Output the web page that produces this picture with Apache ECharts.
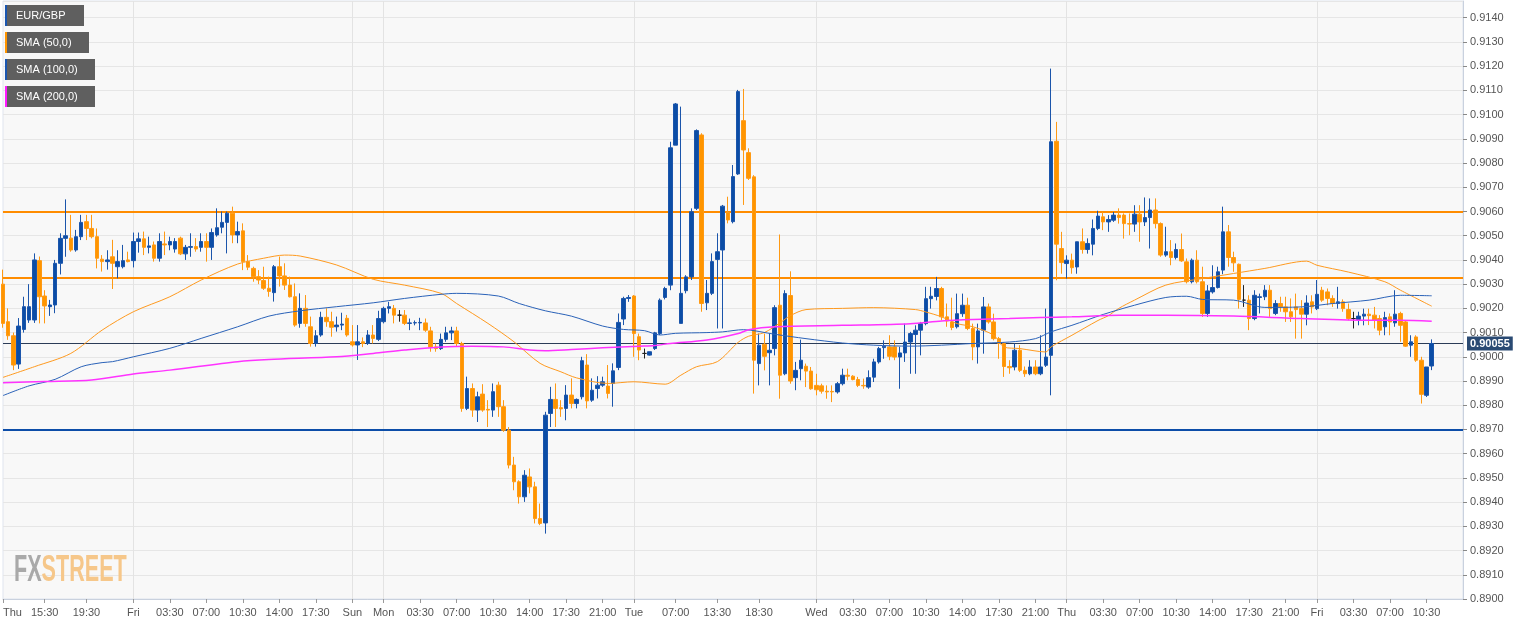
<!DOCTYPE html>
<html><head><meta charset="utf-8">
<script src="https://cdn.jsdelivr.net/npm/echarts@6/dist/echarts.min.js"></script>
<style>html,body{margin:0;padding:0;background:#fff}#c{width:1534px;height:627px}</style>
</head><body><div id="c"></div>
<script>
// 30-minute candles: [open, high, low, close]
const ohlc = [
[0.9030,0.9036,0.9012,0.90138],[0.90145,0.9020,0.9007,0.90087],[0.90087,0.9010,0.89945,0.89966],[0.8997,0.9016,0.8995,0.90127],
[0.90113,0.90248,0.9010,0.90207],[0.90152,0.9030,0.9014,0.90207],[0.90152,0.90427,0.9014,0.9040],[0.90397,0.90414,0.90138,0.90248],
[0.90251,0.90275,0.90138,0.9021],[0.90207,0.90235,0.90169,0.90214],[0.90214,0.904,0.9018,0.90386],[0.90386,0.9051,0.9034,0.90489],
[0.90489,0.9065,0.90413,0.9050],[0.9049,0.90586,0.90434,0.90441],[0.90441,0.90524,0.90434,0.90496],[0.90496,0.90586,0.90482,0.90555],
[0.90558,0.90586,0.90482,0.9053],[0.9053,0.90586,0.90489,0.90496],[0.90496,0.9053,0.90365,0.90407],[0.90403,0.9042,0.90352,0.90393],
[0.90393,0.9044,0.9036,0.904],[0.90413,0.90483,0.9028,0.90386],[0.90372,0.9044,0.90324,0.90393],[0.90372,0.90462,0.90365,0.90397],
[0.904,0.90434,0.9039,0.90393],[0.90397,0.90513,0.90369,0.90476],[0.90476,0.90513,0.9043,0.90487],[0.90487,0.90517,0.9042,0.90452],
[0.90452,0.90496,0.90427,0.90458],[0.90462,0.90476,0.90393,0.90407],[0.90407,0.9051,0.90393,0.90476],[0.90466,0.90517,0.9042,0.90462],
[0.90462,0.90496,0.9044,0.90476],[0.90445,0.9049,0.9043,0.90476],[0.9049,0.90496,0.9042,0.90425],[0.90425,0.90462,0.904,0.90452],
[0.90452,0.9051,0.90413,0.90455],[0.90455,0.9049,0.90434,0.90445],[0.90452,0.9051,0.90434,0.90476],[0.90476,0.9051,0.90393,0.90452],
[0.90452,0.9053,0.904,0.90513],[0.90503,0.90613,0.90496,0.90533],[0.90535,0.906,0.9051,0.90555],[0.90555,0.906,0.90427,0.90593],
[0.90593,0.9062,0.90469,0.90503],[0.90503,0.90558,0.90469,0.90517],[0.9052,0.90551,0.90358,0.90393],[0.90393,0.9042,0.90358,0.9037],
[0.90365,0.90372,0.9031,0.90331],[0.90331,0.90358,0.903,0.90317],[0.90315,0.90372,0.90276,0.90283],[0.90283,0.90331,0.90248,0.9027],
[0.90265,0.90379,0.90228,0.90372],[0.90372,0.90414,0.9029,0.90334],[0.90334,0.90386,0.90276,0.90296],[0.90296,0.90331,0.90245,0.90248],
[0.90248,0.90303,0.90124,0.90131],[0.90138,0.90262,0.9012,0.902],[0.902,0.90255,0.90124,0.90138],[0.90124,0.90166,0.90042,0.90055],
[0.90055,0.9011,0.90042,0.90087],[0.9009,0.90186,0.90083,0.90163],[0.90163,0.902,0.90124,0.90145],[0.90145,0.90186,0.90083,0.90122],
[0.90124,0.90166,0.90104,0.90131],[0.90131,0.90182,0.9011,0.90135],[0.90159,0.90173,0.90083,0.9009],[0.90062,0.90131,0.90042,0.90049],
[0.90049,0.90131,0.89987,0.90062],[0.90062,0.9008,0.9004,0.90055],[0.90055,0.9011,0.90049,0.9009],[0.9009,0.90131,0.90055,0.90076],
[0.90072,0.9019,0.90065,0.90158],[0.90145,0.90207,0.90138,0.902],[0.902,0.90227,0.90179,0.90207],[0.902,0.90214,0.90138,0.90172],
[0.90172,0.90193,0.90145,0.90172],[0.90172,0.90193,0.90131,0.90138],[0.90138,0.90158,0.9011,0.9014],[0.9014,0.9015,0.9013,0.90141],
[0.9014,0.90161,0.9011,0.90142],[0.9014,0.90158,0.90103,0.9011],[0.90107,0.90124,0.90021,0.90041],[0.90041,0.90055,0.90021,0.90034],
[0.90034,0.90096,0.90028,0.90072],[0.90072,0.90124,0.90062,0.90099],[0.90099,0.90124,0.90069,0.90107],[0.90107,0.90124,0.90041,0.90055],
[0.90055,0.90062,0.89773,0.89787],[0.89787,0.89918,0.8978,0.89869],[0.89869,0.8989,0.89752,0.8978],[0.8978,0.89856,0.89731,0.89835],
[0.89846,0.89887,0.89773,0.8978],[0.89783,0.89821,0.8971,0.8978],[0.8978,0.8989,0.89752,0.89856],[0.89883,0.89897,0.89752,0.89794],
[0.89794,0.89821,0.8969,0.89697],[0.89697,0.8971,0.89539,0.89553],[0.89553,0.89587,0.89449,0.89484],[0.89484,0.8949,0.89394,0.89422],
[0.89422,0.89532,0.89401,0.89511],[0.89504,0.89539,0.89436,0.89463],[0.89463,0.89484,0.89312,0.89332],[0.89332,0.89394,0.89305,0.89312],
[0.89314,0.89773,0.8927,0.89759],[0.89766,0.89876,0.8971,0.89824],[0.89824,0.8989,0.8971,0.89787],[0.8979,0.89821,0.89752,0.89785],
[0.89787,0.89883,0.89738,0.89842],[0.89842,0.89911,0.89787,0.89807],[0.89807,0.89828,0.89787,0.89824],[0.89835,0.9,0.89824,0.89984],
[0.89966,0.90011,0.89787,0.89818],[0.89821,0.89911,0.89814,0.89862],[0.89869,0.8992,0.89828,0.89883],[0.89883,0.89918,0.89876,0.89897],
[0.89879,0.89966,0.89828,0.89849],[0.8989,0.89973,0.89794,0.89942],[0.89956,0.90179,0.89945,0.90142],[0.90156,0.90248,0.90131,0.90241],
[0.90241,0.90255,0.90227,0.90245],[0.90251,0.90255,0.9,0.90096],[0.90083,0.90096,0.89986,0.90028],[0.90014,0.90034,0.89993,0.90014],
[0.90007,0.90021,0.90005,0.90021],[0.90034,0.90103,0.90028,0.90099],[0.90096,0.90241,0.9009,0.90234],[0.90245,0.90289,0.90237,0.90282],
[0.90296,0.90888,0.90275,0.90863],[0.90874,0.91048,0.90874,0.91044],[0.90138,0.91033,0.90138,0.90262],[0.90273,0.90337,0.90262,0.9033],
[0.9033,0.90613,0.90317,0.90599],[0.90613,0.90939,0.90606,0.90934],[0.90916,0.90923,0.90186,0.9022],[0.90223,0.90317,0.90193,0.90262],
[0.90262,0.90427,0.90255,0.90393],[0.90402,0.9051,0.90117,0.90434],[0.90441,0.90627,0.90117,0.90622],[0.90596,0.90661,0.90551,0.90565],
[0.90558,0.90792,0.90551,0.90744],[0.90755,0.91102,0.90751,0.91095],[0.90975,0.91106,0.90627,0.90854],[0.90843,0.90861,0.9073,0.90737],
[0.90743,0.9075,0.89848,0.89986],[0.89972,0.90096,0.89882,0.90048],[0.90052,0.90096,0.89944,0.90002],[0.90017,0.90096,0.89882,0.90027],
[0.90034,0.90213,0.90006,0.90203],[0.90213,0.90505,0.89827,0.89924],[0.8993,0.90275,0.89924,0.90261],[0.90253,0.90353,0.89889,0.899],
[0.89914,0.89979,0.89862,0.89944],[0.89951,0.90071,0.89903,0.89986],[0.89961,0.89972,0.89875,0.89941],[0.89941,0.89958,0.89864,0.89868],
[0.89882,0.8993,0.89841,0.89864],[0.8988,0.89889,0.89848,0.89858],[0.89858,0.89882,0.89827,0.89855],[0.89857,0.89882,0.89813,0.89855],
[0.89855,0.89896,0.89848,0.89889],[0.89889,0.89951,0.89882,0.89924],[0.89924,0.89951,0.89903,0.8992],[0.8992,0.89924,0.89903,0.89906],
[0.89906,0.89917,0.89875,0.89882],[0.89882,0.8991,0.89868,0.8988],[0.89875,0.89944,0.89868,0.89914],[0.89916,0.89992,0.89896,0.89979],
[0.89979,0.90041,0.89972,0.90034],[0.90038,0.90068,0.89992,0.90044],[0.90041,0.90089,0.89986,0.90002],[0.90041,0.90068,0.89986,0.89999],
[0.89999,0.90041,0.89868,0.90016],[0.90016,0.90137,0.89979,0.90061],[0.90061,0.90103,0.8993,0.90096],[0.90092,0.9013,0.8993,0.9011],
[0.9011,0.90144,0.90006,0.90137],[0.90137,0.90289,0.9013,0.9024],[0.9024,0.90289,0.90199,0.9025],[0.90249,0.9033,0.90233,0.90282],
[0.90282,0.90289,0.90151,0.90165],[0.90165,0.9022,0.90124,0.90148],[0.90144,0.90244,0.9011,0.90121],[0.90124,0.90261,0.90117,0.90178],
[0.90178,0.90261,0.90165,0.90213],[0.90213,0.90244,0.9011,0.90117],[0.90117,0.90137,0.89986,0.90041],[0.90041,0.90137,0.89972,0.90107],
[0.9011,0.90247,0.90013,0.90206],[0.90206,0.9022,0.90137,0.90144],[0.90144,0.90178,0.90068,0.90075],[0.90075,0.90082,0.89992,0.90055],
[0.90055,0.90061,0.89917,0.8996],[0.8996,0.89986,0.8993,0.89955],[0.89958,0.90055,0.89944,0.90027],[0.90027,0.90048,0.89937,0.89944],
[0.89944,0.8996,0.89917,0.8993],[0.8993,0.89986,0.89924,0.89958],[0.89958,0.89986,0.89924,0.8993],[0.8993,0.90089,0.89924,0.89958],
[0.89965,0.90199,0.89958,0.89999],[0.90006,0.9119,0.89841,0.90888],[0.9089,0.9097,0.90316,0.90465],[0.90447,0.90516,0.90343,0.90389],
[0.90385,0.90419,0.90323,0.90399],[0.90399,0.90426,0.90343,0.90368],[0.90371,0.90475,0.90343,0.90475],[0.90475,0.9053,0.90426,0.90443],
[0.90443,0.90489,0.90426,0.90468],[0.90465,0.90567,0.90419,0.9053],[0.9053,0.90603,0.90523,0.90581],[0.90578,0.90598,0.90523,0.90557],
[0.90557,0.90585,0.90516,0.90567],[0.90564,0.90598,0.90557,0.90585],[0.90585,0.90613,0.9055,0.90575],[0.90585,0.90592,0.90488,0.9055],
[0.9055,0.90592,0.90502,0.90548],[0.90548,0.90626,0.90516,0.90589],[0.90589,0.90626,0.90475,0.90557],[0.90557,0.90658,0.9054,0.90575],
[0.90575,0.90654,0.90447,0.90606],[0.90606,0.90654,0.9053,0.9055],[0.9055,0.90555,0.90413,0.9042],[0.9042,0.90537,0.90413,0.90434],
[0.90434,0.90482,0.90378,0.9041],[0.9041,0.90468,0.90402,0.90443],[0.90443,0.90509,0.90392,0.90396],[0.90392,0.90406,0.90303,0.9031],
[0.9031,0.90406,0.90303,0.90399],[0.90399,0.9044,0.90303,0.9031],[0.9031,0.90372,0.90165,0.90179],[0.90179,0.90296,0.90165,0.90272],
[0.90268,0.90378,0.90261,0.90286],[0.90286,0.90372,0.90282,0.90351],[0.90358,0.9062,0.90341,0.90516],[0.90516,0.90544,0.90372,0.9041],
[0.9041,0.90434,0.90351,0.90388],[0.90382,0.90385,0.90199,0.90237],[0.90234,0.90296,0.90206,0.90234],[0.90234,0.90254,0.9011,0.90158],
[0.90158,0.90275,0.90151,0.90254],[0.90245,0.90261,0.90179,0.90248],[0.90248,0.90296,0.90234,0.90275],[0.90275,0.90296,0.90165,0.90199],
[0.90179,0.90234,0.90172,0.9022],[0.9022,0.90248,0.90186,0.90206],[0.90206,0.90248,0.90144,0.90186],[0.90186,0.90241,0.90144,0.90165],
[0.90206,0.90261,0.90075,0.90195],[0.90199,0.90234,0.90075,0.90176],[0.90176,0.90254,0.9013,0.90222],[0.90227,0.90254,0.90179,0.90206],
[0.90199,0.90317,0.90193,0.90258],[0.90275,0.90289,0.90227,0.90234],[0.90268,0.90282,0.90213,0.90241],[0.90241,0.90254,0.90206,0.9022],
[0.9022,0.90289,0.90199,0.90227],[0.90227,0.90237,0.90186,0.90199],[0.90195,0.9022,0.90151,0.90158],[0.90158,0.90186,0.90117,0.90158],
[0.90154,0.90186,0.9013,0.90168],[0.90168,0.90199,0.9013,0.90176],[0.90176,0.90199,0.90131,0.9017],[0.90172,0.90206,0.90117,0.90151],
[0.90158,0.90172,0.90089,0.9011],[0.90124,0.90186,0.90089,0.90162],[0.90165,0.90179,0.90089,0.90144],[0.9014,0.90275,0.90124,0.90176],
[0.90179,0.90186,0.90062,0.9013],[0.90144,0.90151,0.90041,0.90044],[0.90048,0.90089,0.9,0.90062],[0.90082,0.90089,0.89979,0.89986],
[0.89986,0.9,0.89807,0.89845],[0.89841,0.89958,0.89834,0.89958],[0.89962,0.90072,0.89945,0.90055]
];
// moving averages: [candle index, value]
const sma50 = [[0,0.89915],[6,0.89959],[13,0.90014],[19,0.9011],[25,0.90186],[32,0.90248],[38,0.90317],[45,0.90383],[50,0.90407],[54,0.9042],[57,0.90416],[64,0.90379],[71,0.9032],[77,0.90296],[84,0.90262],[87,0.9022],[93,0.90138],[98,0.90062],[103,0.89973],[107,0.89938],[110,0.89913],[116,0.8989],[121,0.89897],[127,0.89887],[130,0.89924],[133,0.89959],[137,0.8998],[141,0.9006],[143,0.90085],[146,0.901],[149,0.9014],[151,0.9017],[154,0.90195],[161,0.902],[167,0.90203],[175,0.90195],[177,0.90185],[180,0.90165],[183,0.90137],[186,0.90124],[190,0.90089],[192,0.9004],[195,0.90034],[200,0.9002],[201,0.90041],[205,0.90089],[210,0.9015],[212,0.9017],[214,0.902],[217,0.90234],[223,0.90296],[230,0.90323],[236,0.90344],[242,0.90365],[250,0.90395],[252,0.90378],[258,0.9035],[265,0.9031],[268,0.90275],[274,0.90209]];
const sma100 = [[0,0.8984],[5,0.8988],[10,0.89907],[15,0.89959],[19,0.89976],[21,0.8998],[25,0.9],[32,0.90035],[38,0.90076],[45,0.90124],[51,0.90168],[57,0.9019],[64,0.90207],[71,0.90223],[77,0.90241],[84,0.90258],[87,0.90262],[95,0.90251],[99,0.9022],[104,0.9019],[109,0.90168],[115,0.90127],[119,0.90113],[123,0.90108],[126,0.9009],[129,0.90097],[135,0.901],[138,0.90103],[142,0.90112],[148,0.90093],[154,0.90075],[161,0.90057],[167,0.90048],[174,0.90044],[180,0.90048],[186,0.90055],[193,0.90061],[198,0.90075],[201,0.90103],[205,0.9013],[211,0.90175],[217,0.90213],[223,0.90245],[227,0.9025],[230,0.90237],[236,0.90234],[242,0.90204],[249,0.90206],[255,0.9022],[262,0.90234],[268,0.90254],[274,0.90252]];
const sma200 = [[0,0.89893],[8,0.89898],[17,0.89904],[25,0.89929],[32,0.89945],[45,0.8998],[51,0.89989],[64,0.9],[71,0.90014],[77,0.90028],[84,0.90041],[90,0.90044],[96,0.90041],[101,0.90028],[104,0.90025],[109,0.9003],[115,0.90037],[122,0.90044],[125,0.90047],[128,0.90055],[135,0.90069],[141,0.90096],[143,0.90112],[148,0.90124],[161,0.9013],[174,0.90137],[180,0.90148],[186,0.90154],[193,0.90158],[199,0.90162],[205,0.90165],[214,0.90172],[223,0.90172],[236,0.90168],[249,0.90158],[262,0.90151],[268,0.90151],[274,0.90147]];
// x-axis tick labels: [candle index, text]
const tickLabels = [[0,'Thu'],[8,'15:30'],[16,'19:30'],[25,'Fri'],[32,'03:30'],[39,'07:00'],[46,'10:30'],[53,'14:00'],[60,'17:30'],[67,'Sun'],[73,'Mon'],[80,'03:30'],[87,'07:00'],[94,'10:30'],[101,'14:00'],[108,'17:30'],[115,'21:00'],[121,'Tue'],[129,'07:00'],[137,'13:30'],[145,'18:30'],[156,'Wed'],[163,'03:30'],[170,'07:00'],[177,'10:30'],[184,'14:00'],[191,'17:30'],[198,'21:00'],[204,'Thu'],[211,'03:30'],[218,'07:00'],[225,'10:30'],[232,'14:00'],[239,'17:30'],[246,'21:00'],[252,'Fri'],[259,'03:30'],[266,'07:00'],[273,'10:30']];
const dayStarts = [25,67,73,121,156,204,252];
const resistanceLevels = [0.9060, 0.90325];
const supportLevels = [0.8970];
const lastPrice = 0.90055;
const slotCount = 281;
const legendItems = ['EUR/GBP','SMA (50,0)','SMA (100,0)','SMA (200,0)'];

const categories = Array.from({length: slotCount}, (_, i) => String(i));
const labelMap = {}; tickLabels.forEach(t => labelMap[t[0]] = t[1]);
const daySet = new Set(dayStarts);
const FONT = 'Arial, "Liberation Sans", sans-serif';

const legendColors = ['#1a56b0','#ff9500','#1a56b0','#ff19ff'];
const legendWidths = [79,84,90,90];
const graphic = [];
legendItems.forEach((t, i) => {
  const y = 5 + i * 27;
  graphic.push({type:'rect', shape:{x:5,y:y,width:legendWidths[i],height:21}, style:{fill:'#5f5f5f'}, z:100});
  graphic.push({type:'rect', shape:{x:5,y:y,width:2,height:21}, style:{fill:legendColors[i]}, z:101});
  graphic.push({type:'text', x:16, y:y+11, style:{text:t, fill:'#fff', font:'11px ' + FONT, verticalAlign:'middle'}, z:101});
});
graphic.push({type:'text', x:14, y:553, scaleX:0.6, z:50, style:{
  text:'{a|FX}{b|STREET}', rich:{a:{fill:'#a9a9a9', font:'bold 36px ' + FONT}, b:{fill:'#f6c78a', font:'bold 36px ' + FONT}}}});

const chart = echarts.init(document.getElementById('c'), null, {renderer:'canvas'});
chart.setOption({
  animation:false,
  backgroundColor:'#ffffff',
  grid:{left:0, right:71, top:1, bottom:28, show:true, backgroundColor:'#f8f8f8', borderColor:'#dfe4ee', borderWidth:1},
  xAxis:{
    type:'category', data:categories, boundaryGap:false,
    axisLine:{lineStyle:{color:'#c9d1de'}},
    axisTick:{show:true, length:4, interval:(i)=>labelMap[i]!==undefined, lineStyle:{color:'#999'}},
    axisLabel:{interval:(i)=>labelMap[i]!==undefined, formatter:(v,i)=>labelMap[i]||'', color:'#555', fontSize:11, fontFamily:FONT, margin:8, alignMinLabel:'left'},
    splitLine:{show:true, interval:(i)=>daySet.has(i), lineStyle:{color:'#e3e3e3'}}
  },
  yAxis:{
    type:'value', position:'right', min:0.8900, max:0.914691, interval:0.001, scale:true,
    axisLine:{show:true, lineStyle:{color:'#c9d1de'}},
    axisTick:{show:true, length:4, lineStyle:{color:'#888'}},
    axisLabel:{formatter:(v)=>v.toFixed(4), color:'#555', fontSize:11, fontFamily:FONT, margin:7, showMaxLabel:false},
    splitLine:{show:true, lineStyle:{color:'#e6e6e6'}}
  },
  graphic: graphic,
  series:[
    {type:'candlestick', name:'EUR/GBP', z:3, barWidth:4,
     data: ohlc.map(r => [r[0], r[3], r[2], r[1]]),
     itemStyle:{color:'#0b4da6', color0:'#ff9500', borderColor:'#1b55ab', borderColor0:'#ff9a14', borderWidth:1, borderColorDoji:'#222'},
     markLine:{symbol:['none','none'], silent:true, z:1, animation:false, precision:6,
       data:[
         ...resistanceLevels.map(v => ({yAxis:v, lineStyle:{color:'#ff8c00', width:2, type:'solid'}, label:{show:false}})),
         ...supportLevels.map(v => ({yAxis:v, lineStyle:{color:'#0c4da8', width:2, type:'solid'}, label:{show:false}})),
         {yAxis:lastPrice, lineStyle:{color:'#2b3c57', width:1, type:'solid'},
          label:{show:true, position:'end', distance:4, formatter:lastPrice.toFixed(5), color:'#fff', fontWeight:'bold', fontSize:11, fontFamily:FONT, backgroundColor:'#2a4a73', padding:[2,3,1,3]}}
       ]}
    },
    {type:'line', name:'SMA (50,0)', data:sma50, showSymbol:false, smooth:0.3, z:4, lineStyle:{color:'#ff9a1f', width:1}},
    {type:'line', name:'SMA (100,0)', data:sma100, showSymbol:false, smooth:0.3, z:4, lineStyle:{color:'#2a62b8', width:1}},
    {type:'line', name:'SMA (200,0)', data:sma200, showSymbol:false, smooth:0.3, z:4, lineStyle:{color:'#ff33ff', width:1.5}}
  ]
});
</script></body></html>
